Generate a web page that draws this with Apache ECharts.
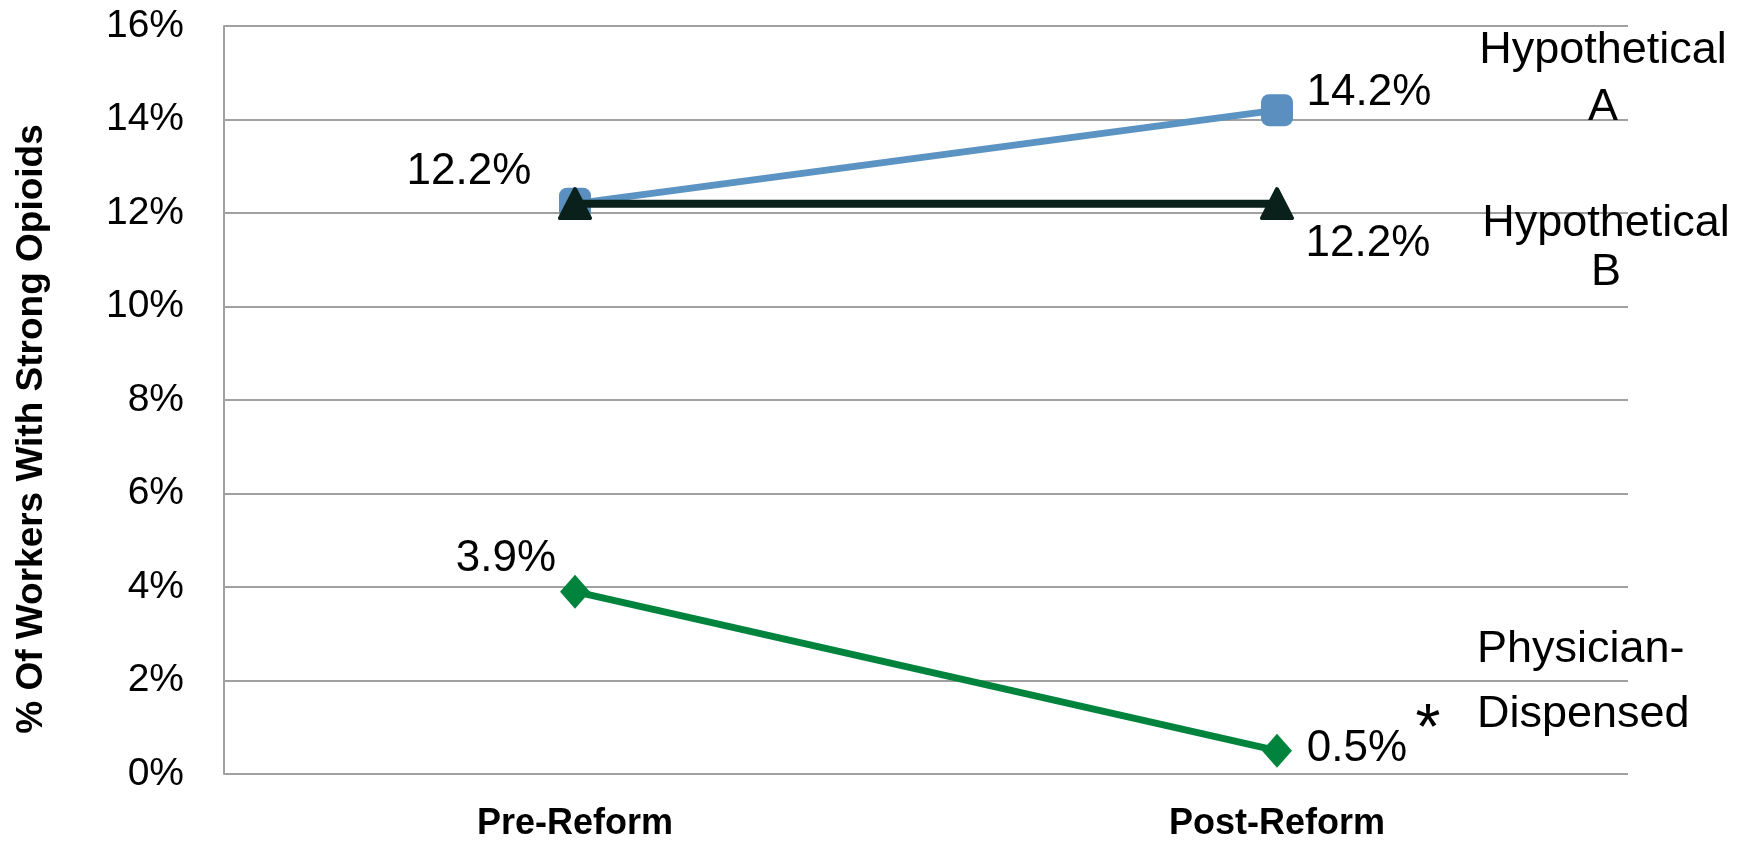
<!DOCTYPE html>
<html>
<head>
<meta charset="utf-8">
<script src="https://cdn.jsdelivr.net/npm/echarts@6/dist/echarts.min.js"></script>
<style>
  html, body { margin: 0; padding: 0; background: #ffffff; }
  #chart { width: 1751px; height: 843px; }
</style>
</head>
<body>
<div id="chart"></div>
<script>
// Share of workers with strong opioids, before and after the reform
const periods = ['Pre-Reform', 'Post-Reform'];
const hypotheticalA = [12.2, 14.2];
const hypotheticalB = [12.2, 12.2];
const physicianDispensed = [3.9, 0.5];
const yTicks = { min: 0, max: 16, step: 2 };
const yTitle = '% Of Workers With Strong Opioids';
const seriesNames = ['Hypothetical\nA', 'Hypothetical\nB', 'Physician-\nDispensed'];
const footnoteMark = '*';

const FONT = '"Liberation Sans", Arial, sans-serif';
const BLUE = '#5b93c3';
const BLUE_MARK = '#5a8fbf';
const DARK = '#0a201b';
const GREEN = '#00843d';

const chart = echarts.init(document.getElementById('chart'), null, { renderer: 'canvas' });

const labelBase = {
  show: true,
  position: 'inside',
  align: 'center',
  verticalAlign: 'middle',
  fontFamily: FONT,
  fontSize: 44,
  color: '#000000',
  formatter: p => p.value + '%'
};

// per-point label placement (pixel offsets from each marker)
function withLabels(values, offsets) {
  return values.map((v, i) => {
    if (!offsets[i]) return { value: v, label: { show: false } };
    return { value: v, label: Object.assign({}, labelBase, { offset: offsets[i] }) };
  });
}

const option = {
  animation: false,
  backgroundColor: '#ffffff',
  grid: { left: 224, right: 123, top: 26, bottom: 69, containLabel: false },
  xAxis: {
    type: 'category',
    data: periods,
    boundaryGap: true,
    axisLine: { show: false },
    axisTick: { show: false },
    axisLabel: {
      fontFamily: FONT, fontSize: 36, fontWeight: 'bold', color: '#000000',
      margin: 32, lineHeight: 36
    },
    splitLine: { show: false }
  },
  yAxis: {
    type: 'value',
    min: yTicks.min, max: yTicks.max, interval: yTicks.step,
    axisLine: { show: true, lineStyle: { color: '#a0a0a0', width: 2 } },
    axisTick: { show: false },
    axisLabel: {
      fontFamily: FONT, fontSize: 39, color: '#000000', margin: 40,
      formatter: '{value}%'
    },
    splitLine: { show: true, lineStyle: { color: '#a0a0a0', width: 2 } }
  },
  series: [
    {
      name: 'Hypothetical A',
      type: 'line',
      data: withLabels(hypotheticalA, [[-106, -32], [92, -17]]),
      symbol: 'roundRect',
      symbolSize: 32,
      lineStyle: { color: BLUE, width: 7 },
      itemStyle: { color: BLUE_MARK },
      z: 2
    },
    {
      name: 'Hypothetical B',
      type: 'line',
      data: withLabels(hypotheticalB, [null, [91, 40]]),
      symbol: 'triangle',
      symbolSize: [30, 29],
      lineStyle: { color: DARK, width: 8 },
      itemStyle: { color: DARK, borderColor: DARK, borderWidth: 4, borderJoin: 'round' },
      z: 3
    },
    {
      name: 'Physician-Dispensed',
      type: 'line',
      data: withLabels(physicianDispensed, [[-69, -33], [80, -2]]),
      symbol: 'diamond',
      symbolSize: [30, 34],
      lineStyle: { color: GREEN, width: 7 },
      itemStyle: { color: GREEN },
      z: 2
    }
  ]
};

chart.setOption(option);

// Series names and the footnote mark, anchored to each series' last point
const last = periods[periods.length - 1];
const pA = chart.convertToPixel({ gridIndex: 0 }, [last, hypotheticalA[1]]);
const pB = chart.convertToPixel({ gridIndex: 0 }, [last, hypotheticalB[1]]);
const pG = chart.convertToPixel({ gridIndex: 0 }, [last, physicianDispensed[1]]);
const mid = chart.convertToPixel({ gridIndex: 0 }, [last, (yTicks.min + yTicks.max) / 2]);

function note(text, x, y, align, lineHeight, size) {
  return {
    type: 'text',
    x: x, y: y,
    style: {
      text: text, fill: '#000000', font: size + 'px ' + FONT,
      textAlign: align, textVerticalAlign: 'middle', lineHeight: lineHeight
    },
    z: 10
  };
}

chart.setOption({
  graphic: [
    note(seriesNames[0], pA[0] + 326, pA[1] - 31, 'center', 57, 45),
    note(seriesNames[1], pB[0] + 329, pB[1] + 44, 'center', 49, 45),
    note(seriesNames[2], pG[0] + 200, pG[1] - 69, 'left', 65, 45),
    note(footnoteMark, pG[0] + 151, pG[1] - 19, 'center', 64, 64),
    {
      type: 'text',
      x: 32, y: mid[1] + 29,
      rotation: Math.PI / 2,
      style: {
        text: yTitle, fill: '#000000', font: 'bold 37px ' + FONT,
        textAlign: 'center', textVerticalAlign: 'middle'
      },
      z: 10
    }
  ]
});
</script>
</body>
</html>
